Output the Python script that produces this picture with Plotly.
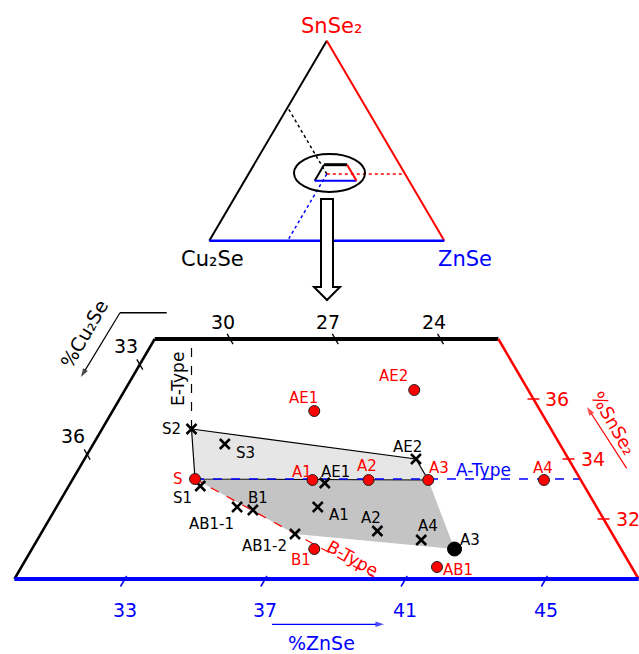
import numpy as np
import plotly.graph_objects as go

W, H = 639, 654
SQ3 = np.sqrt(3) / 2
FONT = "DejaVu Sans"
RED, BLUE, BLACK = "#ff0000", "#0000ff", "#000000"

# ---------------- compositions, mol % (Cu2Se, ZnSe, SnSe2) ----------------
# reference compositions (red dots)
ref_names = ["S", "A1", "A2", "A3", "A4", "AE1", "AE2", "B1", "AB1"]
ref_cu = [100 / 3, 30.0, 28.4, 26.7, 23.4, 28.8, 25.6, 31.1, 27.9]
ref_zn = [100 / 3, 36.7, 38.3, 40.0, 43.3, 35.6, 38.1, 37.9, 41.7]
ref_sn = [100 / 3, 33.3, 33.3, 33.3, 33.3, 35.6, 36.3, 31.0, 30.4]

# measured film compositions (crosses)
film_names = ["S1", "S2", "S3", "AB1-1", "B1", "AB1-2", "A1", "AE1", "A2", "A4", "AE2"]
film_cu = [33.3, 32.6, 31.9, 32.6, 32.2, 31.4, 30.3, 29.7, 29.0, 27.9, 26.7]
film_zn = [33.6, 32.4, 33.6, 35.0, 35.5, 37.1, 37.3, 37.1, 39.4, 40.8, 39.3]
film_sn = [33.1, 35.0, 34.5, 32.4, 32.3, 31.5, 32.4, 33.2, 31.6, 31.3, 34.0]

# bulk sample (black dot)
bulk_names = ["A3"]
bulk_cu = [27.1]
bulk_zn = [41.9]
bulk_sn = [31.0]

# end of the B-type line on the lower edge of the enlarged region
btype_end_cu, btype_end_zn, btype_end_sn = 29.8, 40.2, 30.0

# limits of the enlarged region
FRAME_ZN_MIN = 29.85   # left edge (constant ZnSe)
FRAME_CU_MIN = 22.35   # right edge (constant Cu2Se)
FRAME_SN_LO, FRAME_SN_HI = 30.0, 38.0

zn_ticks = [33, 37, 41, 45]
cu_top_ticks = [30, 27, 24]
cu_left_ticks = [33, 36]
sn_ticks = [36, 34, 32]


# ---------------- helpers ----------------
def xy(zn, sn):
    zn = np.asarray(zn, dtype=float)
    sn = np.asarray(sn, dtype=float)
    return zn + sn / 2.0, sn * SQ3


fig = go.Figure()


def line(zn, sn, color, width, dash="solid", top=False, fill=None, fillcolor=None):
    x, y = xy(zn, sn)
    fig.add_trace(go.Scatter(
        x=x, y=y, mode="lines",
        line=dict(color=color, width=width, dash=dash),
        fill=fill, fillcolor=fillcolor,
        xaxis="x2" if top else "x", yaxis="y2" if top else "y",
        hoverinfo="skip", showlegend=False))


def pp(px, py):
    """pixel position -> paper fraction"""
    return px / W, 1 - py / H


def text(px, py, s, color=BLACK, size=15, angle=0):
    x, y = pp(px, py)
    fig.add_annotation(x=x, y=y, xref="paper", yref="paper", text=s, showarrow=False,
                       textangle=angle, xanchor="center", yanchor="middle",
                       font=dict(family=FONT, size=size, color=color))


def dlabel(zn, sn, s, off, color=BLACK, size=15):
    x, y = xy(zn, sn)
    fig.add_annotation(x=float(x), y=float(y), xref="x", yref="y", text=s, showarrow=False,
                       xshift=off[0], yshift=-off[1], xanchor="center", yanchor="middle",
                       font=dict(family=FONT, size=size, color=color))


def idx(names, n):
    return names.index(n)


# ---------------- overview triangle ----------------
line([0, 0], [0, 100], BLACK, 2, top=True)
line([0, 100], [100, 0], RED, 2, top=True)
line([0, 100], [0, 0], BLUE, 2.5, top=True)
c3 = 100 / 3
line([c3, 0], [c3, 2 * c3], BLACK, 1.5, dash="dot", top=True)        # constant Cu2Se
line([c3, 2 * c3], [c3, c3], RED, 1.5, dash="dot", top=True)         # constant SnSe2
line([c3, c3], [c3, 0], BLUE, 1.5, dash="dot", top=True)             # constant ZnSe

zn_br = 100 - FRAME_CU_MIN - FRAME_SN_LO
zn_tr = 100 - FRAME_CU_MIN - FRAME_SN_HI
line([FRAME_ZN_MIN, zn_tr], [FRAME_SN_HI, FRAME_SN_HI], BLACK, 3, top=True)
line([FRAME_ZN_MIN, FRAME_ZN_MIN], [FRAME_SN_HI, FRAME_SN_LO], BLACK, 2, top=True)
line([FRAME_ZN_MIN, zn_br], [FRAME_SN_LO, FRAME_SN_LO], BLUE, 2, top=True)
line([zn_br, zn_tr], [FRAME_SN_LO, FRAME_SN_HI], RED, 2, top=True)

text(332, 26, "SnSe₂", RED, 21)
text(212, 259, "Cu₂Se", BLACK, 21)
text(465, 259, "ZnSe", BLUE, 21)

# ---------------- enlarged region ----------------
S = (ref_zn[0], ref_sn[0])
A3r = (ref_zn[idx(ref_names, "A3")], ref_sn[idx(ref_names, "A3")])
A3b = (bulk_zn[0], bulk_sn[0])
AB12 = (film_zn[idx(film_names, "AB1-2")], film_sn[idx(film_names, "AB1-2")])
S2 = (film_zn[idx(film_names, "S2")], film_sn[idx(film_names, "S2")])
AE2x = (film_zn[idx(film_names, "AE2")], film_sn[idx(film_names, "AE2")])

# A-type single phase area
poly = [S, A3r, A3b, AB12, S]
line([p[0] for p in poly], [p[1] for p in poly], "rgba(0,0,0,0)", 0,
     fill="toself", fillcolor="#c4c4c4")
# E-type area
poly = [S2, AE2x, A3r, S, S2]
line([p[0] for p in poly], [p[1] for p in poly], BLACK, 1.2,
     fill="toself", fillcolor="#e6e6e6")

# E-type line (vertical, up to upper edge)
x_s2 = S2[0] + S2[1] / 2
line([S2[0], x_s2 - FRAME_SN_HI / 2], [S2[1], FRAME_SN_HI], BLACK, 1.2, dash="dash")
# A-type line (constant SnSe2, up to right edge)
line([S[0], 100 - FRAME_CU_MIN - S[1]], [S[1], S[1]], BLUE, 1.3, dash="dash")
# B-type line
line([S[0], btype_end_zn], [S[1], btype_end_sn], RED, 1.2, dash="dash")

# frame
line([FRAME_ZN_MIN, FRAME_ZN_MIN], [FRAME_SN_LO, FRAME_SN_HI], BLACK, 2.5)
line([FRAME_ZN_MIN, zn_tr], [FRAME_SN_HI, FRAME_SN_HI], BLACK, 4)
line([zn_tr, zn_br], [FRAME_SN_HI, FRAME_SN_LO], RED, 2.5)
line([FRAME_ZN_MIN, zn_br], [FRAME_SN_LO, FRAME_SN_LO], BLUE, 4)

# ticks
T = 0.17
for v in zn_ticks:
    line([v, v], [FRAME_SN_LO - 0.25, FRAME_SN_LO + 0.1], BLUE, 1.5)
    dlabel(v, FRAME_SN_LO, str(v), (0, 31), BLUE, 19)
for v in cu_top_ticks:
    sn = [FRAME_SN_HI - T, FRAME_SN_HI + T]
    line([100 - v - s for s in sn], sn, BLACK, 1.3)
    dlabel(100 - v - FRAME_SN_HI, FRAME_SN_HI, str(v), (-7, -17), BLACK, 19)
for v in cu_left_ticks:
    s0 = 100 - v - FRAME_ZN_MIN
    sn = [s0 - T, s0 + T]
    line([100 - v - s for s in sn], sn, BLACK, 1.3)
    dlabel(FRAME_ZN_MIN, s0, str(v), (-14, -19), BLACK, 19)
for v in sn_ticks:
    z0 = 100 - FRAME_CU_MIN - v
    line([z0 - T, z0 + T], [v, v], RED, 1.5)
    dlabel(z0, v, str(v), (24, 0), RED, 19)

# markers
x, y = xy(film_zn, film_sn)
fig.add_trace(go.Scatter(x=x, y=y, mode="markers", hoverinfo="skip", showlegend=False,
                         marker=dict(symbol="x-thin", size=10, color=BLACK,
                                     line=dict(color=BLACK, width=2.5))))
x, y = xy(ref_zn, ref_sn)
fig.add_trace(go.Scatter(x=x, y=y, mode="markers", hoverinfo="skip", showlegend=False,
                         marker=dict(symbol="circle", size=11, color=RED,
                                     line=dict(color="#222222", width=1))))
x, y = xy(bulk_zn, bulk_sn)
fig.add_trace(go.Scatter(x=x, y=y, mode="markers", hoverinfo="skip", showlegend=False,
                         marker=dict(symbol="circle", size=14, color=BLACK,
                                     line=dict(color=BLACK, width=1))))

# point labels
ref_off = {"S": (-17, 0), "A1": (-11, -8), "A2": (-2, -14), "A3": (11, -12), "A4": (-1, -12),
           "AE1": (-11, -13), "AE2": (-21, -14), "B1": (-13, 11), "AB1": (21, 3)}
film_off = {"S1": (-18, 12), "S2": (-20, 0), "S3": (21, 9), "AB1-1": (-26, 17), "B1": (5, -12),
            "AB1-2": (-30, 12), "A1": (21, 8), "AE1": (11, -11), "A2": (-6, -13),
            "A4": (7, -14), "AE2": (-8, -12)}
bulk_off = {"A3": (15, -9)}
for n, z, s in zip(ref_names, ref_zn, ref_sn):
    dlabel(z, s, n, ref_off[n], RED, 15)
for n, z, s in zip(film_names, film_zn, film_sn):
    dlabel(z, s, n, film_off[n], BLACK, 15)
for n, z, s in zip(bulk_names, bulk_zn, bulk_sn):
    dlabel(z, s, n, bulk_off[n], BLACK, 15)

text(483, 470, "A-Type", BLUE, 17)
text(178, 379, "E-Type", BLACK, 17, angle=-90)
text(352, 558, "B-Type", RED, 17, angle=29)

# axis titles
text(84, 334, "%Cu₂Se", BLACK, 19, angle=-60)
text(614, 423, "%SnSe₂", RED, 18, angle=60)
text(322, 643, "%ZnSe", BLUE, 19)


# arrows drawn on a pixel-scaled overlay axis (x3/y3)
def arrow(tail, tip, color):
    fig.add_trace(go.Scatter(
        x=[tail[0], tip[0]], y=[tail[1], tip[1]], mode="lines+markers",
        xaxis="x3", yaxis="y3", hoverinfo="skip", showlegend=False,
        line=dict(color=color, width=1.2),
        marker=dict(symbol="arrow", angleref="previous", size=[0, 9], color=color,
                    line=dict(width=0))))


arrow((120, 312.7), (81, 377), BLACK)
arrow((626.7, 468.3), (587, 407), RED)
arrow((272, 624.3), (384, 624.3), BLUE)

shapes = []
x0, y0 = pp(120, 312.7)
x1, y1 = pp(166.7, 312.7)
shapes.append(dict(type="line", xref="paper", yref="paper", x0=x0, y0=y0, x1=x1, y1=y1,
                   line=dict(color=BLACK, width=1.5)))
# ellipse around the enlarged region
ex0, ey0 = pp(329.5 - 35.5, 173 + 19)
ex1, ey1 = pp(329.5 + 35.5, 173 - 19)
shapes.append(dict(type="circle", xref="paper", yref="paper", x0=ex0, y0=ey0, x1=ex1, y1=ey1,
                   line=dict(color=BLACK, width=2)))
# hollow block arrow
cx = 327
pts = [(cx - 6, 199), (cx + 6, 199), (cx + 6, 287), (cx + 13, 287), (cx, 300),
       (cx - 13, 287), (cx - 6, 287)]
path = "M " + " L ".join("{:.5f},{:.5f}".format(*pp(a, b)) for a, b in pts) + " Z"
shapes.append(dict(type="path", xref="paper", yref="paper", path=path,
                   fillcolor="white", line=dict(color=BLACK, width=2)))

# ---------------- axes ----------------
# enlarged region: x = ZnSe + SnSe2/2, y = SnSe2*sqrt(3)/2
KX, PX0, X0 = 35.07, 335.3, 54.0
KY, PY0, SN0 = 30.0, 399.0, 36.0
xr = [X0 - PX0 / KX, X0 + (W - PX0) / KX]
yr = [(SN0 - (H - PY0) / KY) * SQ3, (SN0 + PY0 / KY) * SQ3]
# overview triangle
KX2, PX2 = 2.35, 209.3
KY2, PY2 = 2.0, 240.7
xr2 = [-PX2 / KX2, (W - PX2) / KX2]
yr2 = [((PY2 - H) / KY2) * SQ3, (PY2 / KY2) * SQ3]

fig.update_layout(
    width=W, height=H, autosize=False,
    margin=dict(l=0, r=0, t=0, b=0, pad=0),
    paper_bgcolor="white", plot_bgcolor="rgba(0,0,0,0)",
    showlegend=False, shapes=shapes,
    xaxis=dict(range=xr, visible=False, domain=[0, 1], fixedrange=True),
    yaxis=dict(range=yr, visible=False, domain=[0, 1], fixedrange=True),
    xaxis2=dict(range=xr2, visible=False, overlaying="x", anchor="y2", fixedrange=True),
    yaxis2=dict(range=yr2, visible=False, overlaying="y", anchor="x2", fixedrange=True),
    xaxis3=dict(range=[0, W], visible=False, overlaying="x", anchor="y3", fixedrange=True),
    yaxis3=dict(range=[H, 0], visible=False, overlaying="y", anchor="x3", fixedrange=True),
)

fig.write_html("out.html", config={"displayModeBar": False})
